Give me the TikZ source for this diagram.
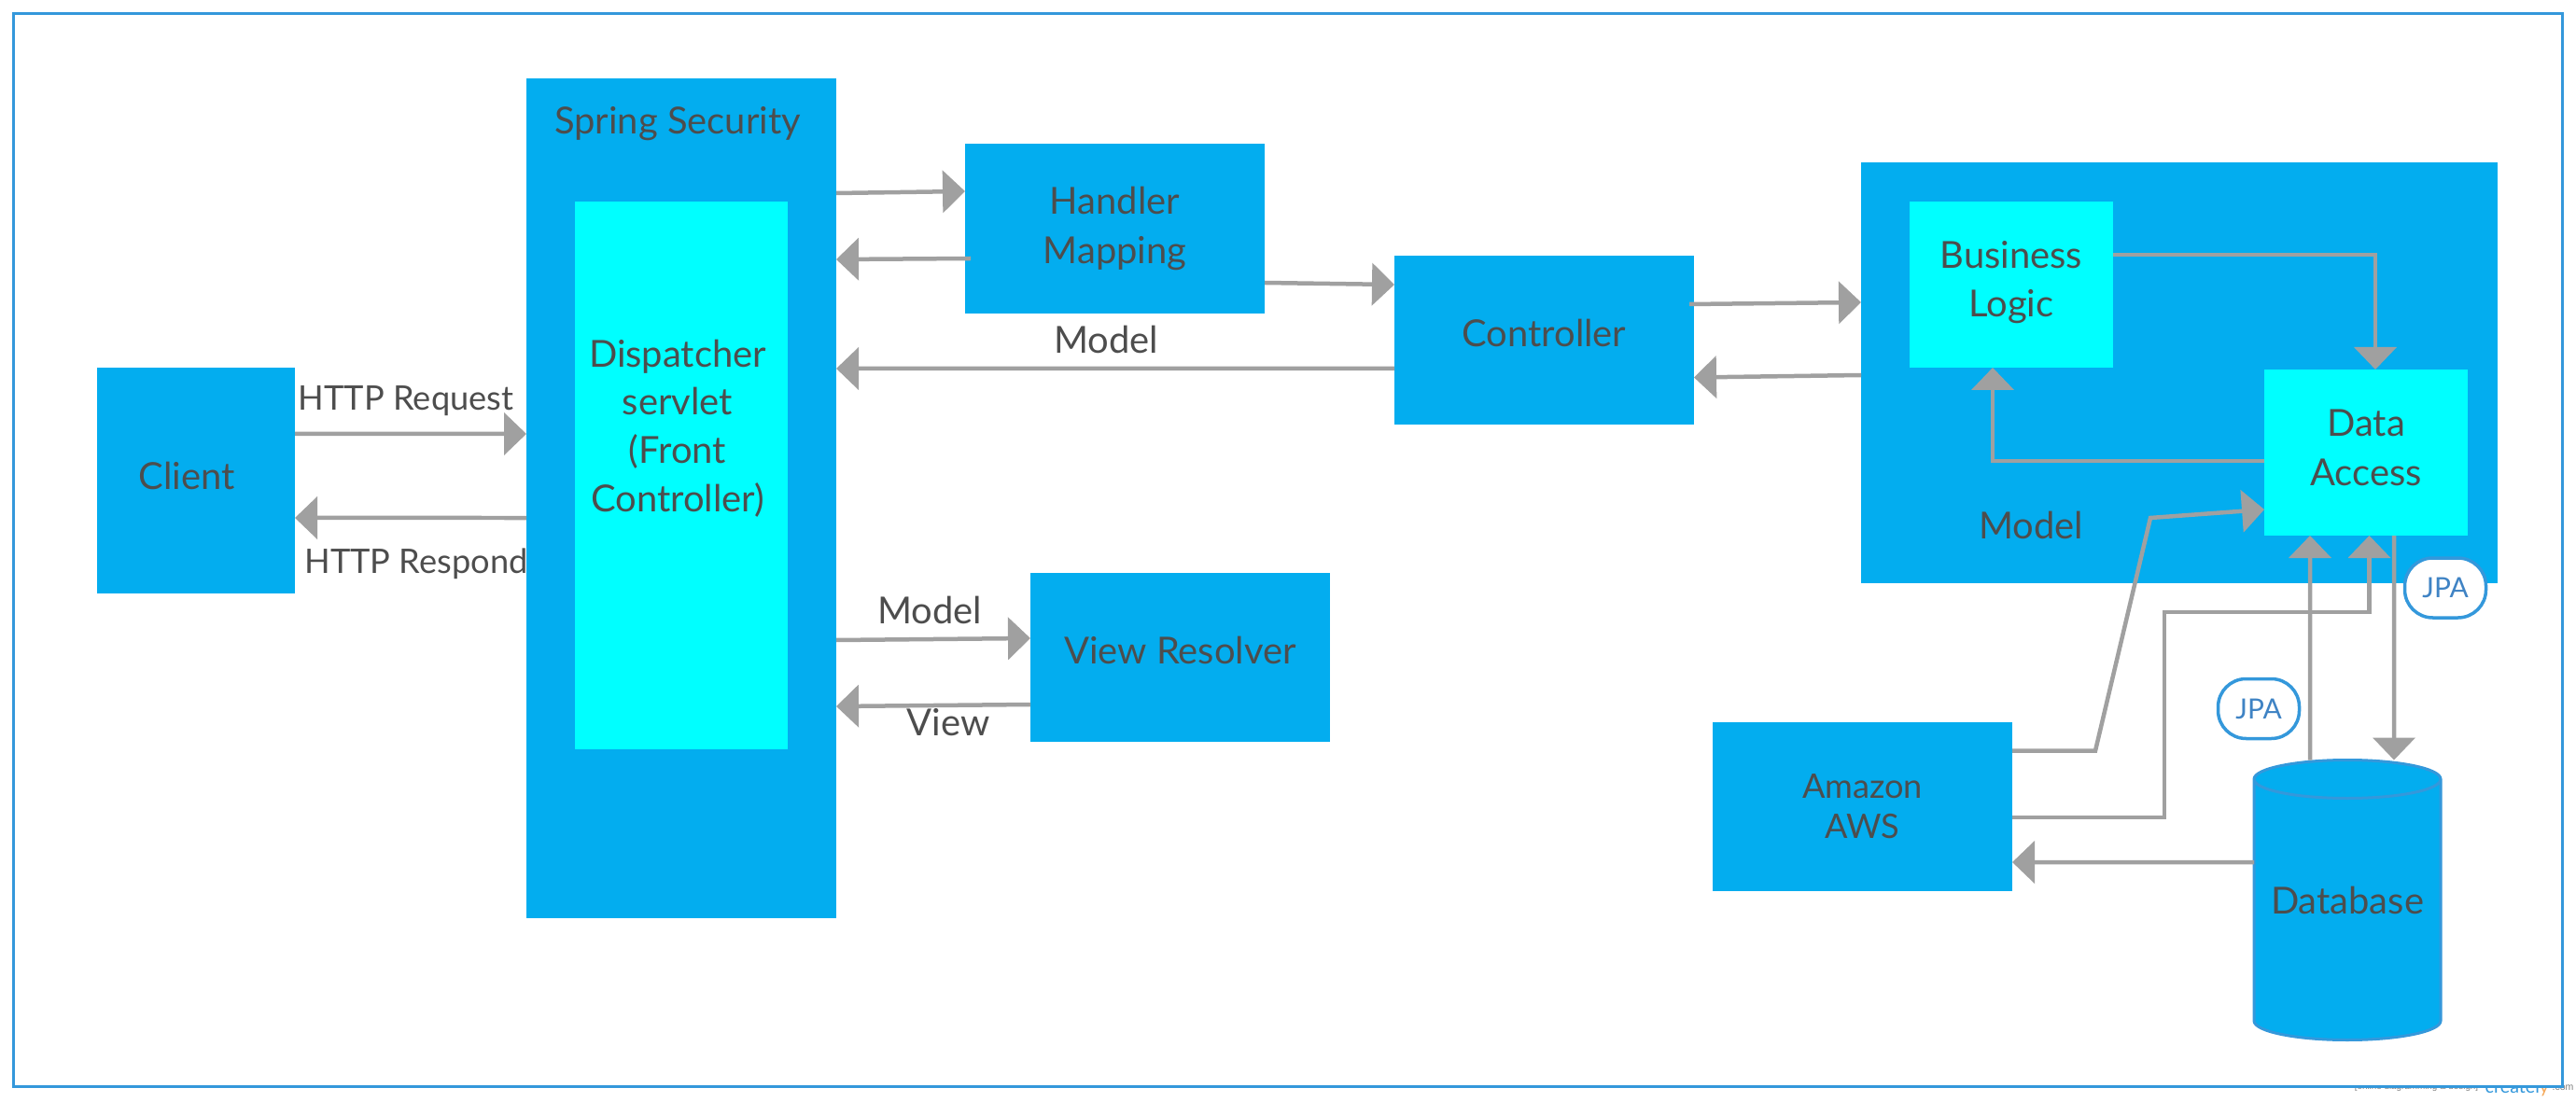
\documentclass[tikz,border=0pt]{standalone}
\usepackage{fontspec}
\setmainfont{Lato}
\newfontfamily\markfont{Liberation Sans}
\usetikzlibrary{shapes.geometric}
\usetikzlibrary{arrows.meta, positioning}
\definecolor{boxblue}{HTML}{03ADEF}
\definecolor{innercyan}{HTML}{00FFFF}
\definecolor{linegray}{HTML}{A0A0A0}
\definecolor{textgray}{HTML}{4D4D4D}
\definecolor{edgeblue}{HTML}{3498DB}
\definecolor{tagblue}{HTML}{3F83C4}
\definecolor{markorange}{HTML}{F5A95B}

\begin{document}
\begin{tikzpicture}[
        box/.style={rectangle, fill=boxblue, outer sep=0pt, inner sep=0pt, align=center, text=textgray, font=\fontsize{11.35}{15}\selectfont},
        innerbox/.style={box, fill=innercyan},
        flow/.style={-{Triangle[length=0.24cm, width=0.45cm]}, draw=linegray, line width=0.045cm},
        caption/.style={inner sep=0pt, align=center, text=textgray, font=\fontsize{11.35}{15}\selectfont},
        small/.style={caption, font=\fontsize{10.3}{13}\selectfont},
        tag/.style={rectangle, rounded corners=0.30cm, draw=edgeblue, fill=white, line width=0.035cm, minimum width=0.87cm, minimum height=0.64cm, inner sep=0pt, text=tagblue, font=\fontsize{8.5}{10}\selectfont}
    ]
        \useasboundingbox (0,0) rectangle (27.6,11.8);

        % Watermark, cut off by the frame
        \node[inner sep=0pt, text=gray, font=\markfont\fontsize{2.8}{3}\selectfont] (slogan) at (25.89,0.15) {[online diagramming \& design]};
        \node[inner sep=0pt, text=edgeblue, font=\fontsize{5.6}{7}\selectfont, anchor=base west] (brand) at (26.62,0.09) {createl\textcolor{markorange}{y}};
        \node[inner sep=0pt, text=gray, font=\markfont\fontsize{3}{4}\selectfont] (brandend) at (27.46,0.14) {.com};

        % Frame
        \node[rectangle, draw=edgeblue, fill=white, line width=0.03cm, minimum width=27.30cm, minimum height=11.49cm, inner sep=0pt] (frame) at (13.80,5.905) {};

        % Spring Security with the dispatcher
        \node[box, minimum width=3.32cm, minimum height=9cm] (spring) at (7.30,6.46) {};
        \node[innerbox, minimum width=2.28cm, minimum height=5.87cm] (dispatcher) at (7.30,6.705) {};
        \node[caption] (springtext) at (7.26,10.47) {Spring Security};
        \node[caption, font=\fontsize{11.35}{14.7}\selectfont] (dispatchertext) at (7.26,7.21) {Dispatcher\\servlet\\(Front\\Controller)};

        % Client
        \node[box, minimum width=2.12cm, minimum height=2.42cm, left=2.48cm of spring, yshift=0.19cm] (client) {};
        \node[caption] (clienttext) at (2.00,6.70) {Client};

        % Handler, controller, view resolver
        \node[box, minimum width=3.21cm, minimum height=1.82cm, right=1.38cm of spring, yshift=2.89cm] (handler) {Handler\\Mapping};
        \node[box, minimum width=3.21cm, minimum height=1.81cm, text depth=4.4pt, right=1.39cm of handler, yshift=-1.195cm] (controller) {Controller};
        \node[box, minimum width=3.21cm, minimum height=1.81cm, text depth=4.4pt, right=2.08cm of spring, yshift=-1.705cm] (resolver) {View Resolver};

        % Model
        \node[box, minimum width=6.82cm, minimum height=4.51cm, right=1.79cm of controller, yshift=-0.35cm] (model) {};
        \node[innerbox, minimum width=2.18cm, minimum height=1.78cm, text depth=3.5pt] (logic) at (21.55,8.75) {Business\\Logic};
        \node[innerbox, minimum width=2.18cm, minimum height=1.78cm, text depth=3pt] (data) at (25.35,6.95) {Data\\Access};
        \node[caption] (modeltext) at (21.76,6.17) {Model};

        % Amazon and database
        \node[box, minimum width=3.21cm, minimum height=1.81cm, font=\fontsize{10.3}{12.2}\selectfont] (aws) at (19.955,3.155) {Amazon\\AWS};
        \node[cylinder, shape border rotate=90, shape aspect=0.25, cylinder uses custom fill, cylinder body fill=boxblue, cylinder end fill=boxblue, draw=edgeblue, line width=0.03cm, minimum width=2cm, minimum height=3cm, outer sep=0pt, inner sep=0pt, text=textgray, text depth=6pt, font=\fontsize{11.35}{15}\selectfont] (db) at (25.15,2.045) {Database};

        % Client and Spring Security
        \draw[flow] ([yshift=0.50cm]client.east) -- ([yshift=0.69cm]spring.west);
        \draw[flow] ([yshift=-0.21cm]spring.west) -- ([yshift=-0.40cm]client.east);
        \node[small] (requesttext) at (4.35,7.50) {HTTP Request};
        \node[small] (respondtext) at (4.46,5.76) {HTTP Respond};

        % Spring Security and the handler
        \draw[flow] ([yshift=3.27cm]spring.east) -- ([yshift=0.40cm]handler.west);
        \draw[flow] ([xshift=0.06cm, yshift=-0.32cm]handler.west) -- ([yshift=2.56cm]spring.east);
        \draw[flow] ([yshift=-0.58cm]handler.east) -- ([yshift=0.595cm]controller.west);
        \draw[flow] ([yshift=-0.305cm]controller.west) -- ([yshift=1.39cm]spring.east);
        \node[caption] (backtext) at (11.85,8.16) {Model};

        % Spring Security and the view resolver
        \draw[flow] ([yshift=-1.52cm]spring.east) -- ([yshift=0.205cm]resolver.west);
        \draw[flow] ([yshift=-0.505cm]resolver.west) -- ([yshift=-2.23cm]spring.east);
        \node[caption] (sendtext) at (9.96,5.26) {Model};
        \node[caption] (viewtext) at (10.16,4.06) {View};

        % Controller and the model
        \draw[flow] ([xshift=-0.05cm, yshift=0.385cm]controller.east) -- ([yshift=0.755cm]model.west);
        \draw[flow] ([yshift=-0.025cm]model.west) -- ([yshift=-0.40cm]controller.east);

        % Inside the model
        \draw[flow] ([yshift=0.32cm]logic.east) -| ([xshift=0.10cm]data.north);
        \draw[flow] ([yshift=-0.09cm]data.west) -| ([xshift=-0.20cm]logic.south);

        % Amazon, database, data access
        \draw[flow] ([yshift=0.60cm]aws.east) -- ++(0.89,0) -- (23.04,6.25) -- ([yshift=-0.61cm]data.west);
        \draw[flow] ([yshift=-0.115cm]aws.east) -| (23.19,5.24) -| ([xshift=0.035cm]data.south);
        \draw[flow] ([xshift=-0.40cm]db.north) -- ([xshift=-0.60cm]data.south);
        \draw[flow] ([xshift=0.30cm]data.south) -- ([xshift=0.50cm]db.north);
        \draw[flow] ([yshift=0.515cm]db.west) -- ([yshift=-0.595cm]aws.east);

        % JPA tags
        \node[tag] (jpadata) at (26.20,5.50) {JPA};
        \node[tag] (jpadb) at (24.20,4.205) {JPA};

    \end{tikzpicture}
\end{document}
